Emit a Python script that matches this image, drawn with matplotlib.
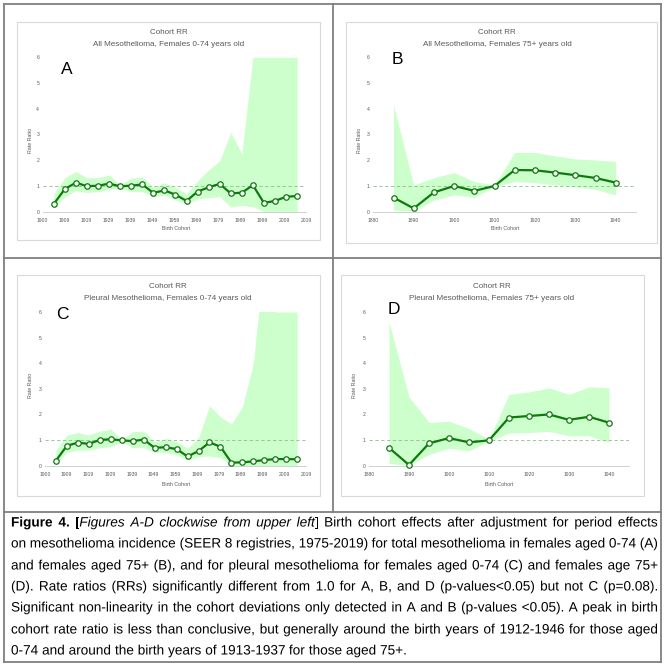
import matplotlib
matplotlib.use("Agg")
import matplotlib.pyplot as plt
from matplotlib.patches import Rectangle, PathPatch
from matplotlib.lines import Line2D
from matplotlib.textpath import TextPath
from matplotlib.font_manager import FontProperties
from matplotlib.transforms import Affine2D

plt.rcParams["font.family"] = ["Liberation Sans", "DejaVu Sans"]

W, H = 668, 671

# ---------------------------------------------------------------------------
# Data
# ---------------------------------------------------------------------------
cohort_young = [1905, 1910, 1915, 1920, 1925, 1930, 1935, 1940, 1945, 1950, 1955, 1960,
                1965, 1970, 1975, 1980, 1985, 1990, 1995, 2000, 2005, 2010, 2015]
cohort_old = [1885, 1890, 1895, 1900, 1905, 1910, 1915, 1920, 1925, 1930, 1935, 1940]

rr_a = [0.30, 0.88, 1.13, 0.99, 1.01, 1.09, 0.99, 1.01, 1.06, 0.73, 0.83, 0.66,
        0.42, 0.78, 0.95, 1.08, 0.71, 0.74, 1.03, 0.34, 0.42, 0.58, 0.61]
lo_a = [0.15, 0.58, 0.82, 0.74, 0.78, 0.87, 0.91, 0.78, 0.78, 0.58, 0.65, 0.45,
        0.30, 0.49, 0.55, 0.58, 0.18, 0.25, 0.19, 0.0, 0.0, 0.0, 0.0]
hi_a = [0.70, 1.32, 1.56, 1.32, 1.32, 1.43, 1.04, 1.30, 1.35, 0.95, 1.12, 0.95,
        0.70, 1.20, 1.62, 1.98, 3.08, 2.25, 6.0, 6.0, 6.0, 6.0, 6.0]

rr_b = [0.55, 0.13, 0.75, 1.00, 0.81, 1.00, 1.62, 1.61, 1.52, 1.42, 1.31, 1.13]
lo_b = [0.06, 0.03, 0.45, 0.65, 0.56, 0.97, 1.17, 1.13, 1.04, 0.97, 0.87, 0.65]
hi_b = [4.16, 1.04, 1.32, 1.52, 1.17, 1.04, 2.30, 2.30, 2.17, 2.05, 2.01, 1.95]

rr_c = [0.20, 0.78, 0.90, 0.85, 1.01, 1.03, 0.99, 0.96, 1.02, 0.70, 0.72, 0.65,
        0.36, 0.57, 0.91, 0.74, 0.12, 0.13, 0.17, 0.22, 0.26, 0.26, 0.25]
lo_c = [0.09, 0.52, 0.61, 0.61, 0.70, 0.74, 0.94, 0.70, 0.70, 0.52, 0.52, 0.42,
        0.22, 0.35, 0.38, 0.31, 0.0, 0.0, 0.0, 0.0, 0.0, 0.0, 0.0]
hi_c = [0.61, 1.20, 1.29, 1.20, 1.35, 1.42, 1.03, 1.33, 1.35, 0.94, 1.07, 0.94,
        0.68, 1.09, 2.33, 1.91, 1.62, 2.30, 4.0, 8.1, 6.0, 6.0, 6.0]

rr_d = [0.70, 0.03, 0.87, 1.08, 0.91, 0.99, 1.88, 1.94, 2.00, 1.79, 1.91, 1.68]
lo_d = [0.09, 0.0, 0.44, 0.68, 0.58, 0.96, 1.27, 1.29, 1.34, 1.17, 1.17, 0.91]
hi_d = [5.62, 2.69, 1.69, 1.74, 1.45, 1.04, 2.78, 2.88, 3.04, 2.78, 3.08, 3.04]

ticks_young = ["1900", "1909", "1919", "1929", "1939", "1949", "1959",
               "1969", "1979", "1989", "1999", "2009", "2019"]
ticks_old = ["1880", "1890", "1900", "1910", "1920", "1930", "1940"]
yticks = ["0", "1", "2", "3", "4", "5", "6"]

title_text = {
    "A": "All Mesothelioma, Females 0-74 years old",
    "B": "All Mesothelioma, Females 75+ years old",
    "C": "Pleural Mesothelioma, Females 0-74 years old",
    "D": "Pleural Mesothelioma, Females 75+ years old",
}

caption_lines = [
    "on mesothelioma incidence (SEER 8 registries, 1975-2019) for total mesothelioma in females aged 0-74 (A)",
    "and females aged 75+ (B), and for pleural mesothelioma for females aged 0-74 (C) and females age 75+",
    "(D). Rate ratios (RRs) significantly different from 1.0 for A, B, and D (p-values<0.05) but not C (p=0.08).",
    "Significant non-linearity in the cohort deviations only detected in A and B (p-values <0.05). A peak in birth",
    "cohort rate ratio is less than conclusive, but generally around the birth years of 1912-1946 for those aged",
    "0-74 and around the birth years of 1913-1937 for those aged 75+.",
]

GREEN = "#0e7a0e"
BAND = "#ccffcc"
GREY_TXT = "#595959"


def fx(x):
    return x / W


def fy(y):
    return 1 - y / H


fig = plt.figure(figsize=(W / 100, H / 100), dpi=100)
fig.patch.set_facecolor("white")


def panel(box, data_px, xlim, xtick_pos, xtick_lab, labels, letter, letter_xy,
          x, rr, lo, hi):
    # chart-area frame
    x0, y0, x1, y1 = box
    fig.add_artist(Rectangle((fx(x0), fy(y1)), (x1 - x0) / W, (y1 - y0) / H,
                             transform=fig.transFigure, fill=False,
                             edgecolor="#d9d9d9", lw=0.8))
    # plot area, mapped so the axis limits land on the reference pixels
    px_l, px_r, px_b, px_t = data_px
    ax = fig.add_axes([fx(px_l), fy(px_b), (px_r - px_l) / W, (px_b - px_t) / H])
    ax.set_xlim(*xlim)
    ax.set_ylim(0, 6)
    ax.patch.set_alpha(0)
    for s in ("top", "right", "left"):
        ax.spines[s].set_visible(False)
    ax.spines["bottom"].set_color("#d0d0d0")
    ax.spines["bottom"].set_linewidth(0.7)
    ax.fill_between(x, lo, hi, color=BAND, lw=0, zorder=1)
    ax.axhline(1, color="#8cbf8c", lw=0.6, ls=(0, (4, 3)), zorder=2)
    ax.plot(x, rr, color=GREEN, lw=1.6, marker="o", ms=3.9,
            mfc="white", mec=GREEN, mew=0.9, zorder=3, clip_on=False)
    ax.set_xticks(xtick_pos)
    ax.set_xticklabels(xtick_lab)
    ax.set_yticks(range(7))
    ax.set_yticklabels(yticks)
    ax.tick_params(length=0, labelsize=3.6, colors=GREY_TXT)
    ax.tick_params(axis="x", pad=4.5)
    ax.tick_params(axis="y", pad=2.5)

    tx, ty1, ty2, ylx, yly, xlx, xly = labels
    fig.text(fx(tx), fy(ty1), "Cohort RR", ha="center", va="center",
             fontsize=5.8, color=GREY_TXT)
    fig.text(fx(tx), fy(ty2), title_text[letter], ha="center", va="center",
             fontsize=5.9, color=GREY_TXT)
    fig.text(fx(ylx), fy(yly), "Rate Ratio", ha="center", va="center",
             rotation=90, fontsize=3.8, color=GREY_TXT)
    fig.text(fx(xlx), fy(xly), "Birth Cohort", ha="center", va="center",
             fontsize=3.8, color=GREY_TXT)
    fig.text(fx(letter_xy[0]), fy(letter_xy[1]), letter, ha="center",
             va="center", fontsize=12.5, color="black")


young_pos = [1900 + i * (2019 - 1900) / 12 for i in range(13)]
old_pos = [1880, 1890, 1900, 1910, 1920, 1930, 1940]

panel((17, 22, 320, 240), (42.7, 306, 211.7, 57.3), (1900, 2019),
      young_pos, ticks_young, (169, 32, 44, 30, 140, 176, 229),
      "A", (67, 69), cohort_young, rr_a, lo_a, hi_a)
panel((346, 22, 657, 243), (373.3, 635.9, 211.7, 57.3), (1880, 1945),
      old_pos, ticks_old, (497, 32, 44, 359, 140, 505, 229),
      "B", (397, 60), cohort_old, rr_b, lo_b, hi_b)
panel((17, 275, 320, 496), (45, 306, 465.7, 312), (1900, 2019),
      young_pos, ticks_young, (168, 287, 298, 30, 385, 176, 484),
      "C", (62.5, 314.5), cohort_young, rr_c, lo_c, hi_c)
panel((341, 275, 644, 496), (369, 629, 465.7, 312), (1880, 1945),
      old_pos, ticks_old, (492, 287, 298, 354, 385, 499, 484),
      "D", (394, 310), cohort_old, rr_d, lo_d, hi_d)

# ---------------------------------------------------------------------------
# Table borders
# ---------------------------------------------------------------------------
BORDER = "#7f7f7f"
for (xa, ya, xb, yb) in [(4, 4, 661, 4), (4, 662, 661, 662), (4, 4, 4, 662),
                         (661, 4, 661, 662), (333, 4, 333, 512),
                         (4, 258, 661, 258), (4, 512, 661, 512)]:
    fig.add_artist(Line2D([fx(xa), fx(xb)], [fy(ya), fy(yb)],
                          transform=fig.transFigure, color=BORDER, lw=1.3))

# ---------------------------------------------------------------------------
# Caption: justified, slightly condensed glyphs drawn as paths
# ---------------------------------------------------------------------------
CAP_PX = 13.6          # em size in pixels
X0, X1 = 11, 658
LAST_END = 428         # where the last (ragged) line ends in the reference
MIN_GAP = 0.95         # tightest word gap allowed, in (squeezed) spaces
line_y = [522, 543, 565, 586, 607, 629, 650]

props = {
    "": FontProperties(family="Liberation Sans"),
    "b": FontProperties(family="Liberation Sans", weight="bold"),
    "i": FontProperties(family="Liberation Sans", style="italic"),
}
renderer = fig.canvas.get_renderer()


def advance(s, st):
    w, _, _ = renderer.get_text_width_height_descent(s, props[st], ismath=False)
    return w * CAP_PX / (props[st].get_size_in_points() * 100 / 72)


space_w = advance("a a", "") - advance("aa", "")


def words_of(text, st=""):
    return [[(w, st)] for w in text.split()]


first = [[("Figure", "b")], [("4.", "b")], [("[", ""), ("Figures", "i")]]
first += words_of("A-D clockwise from upper", "i")
first += [[("left", "i"), ("]", "")]]
first += words_of("Birth cohort effects after adjustment for period effects")
all_lines = [first] + [words_of(t) for t in caption_lines]


def natural(tokens):
    return sum(advance(s, st) for w in tokens for s, st in w)


# uniform horizontal squeeze: match the ragged last line, but keep every
# justified line from getting tighter than MIN_GAP spaces
last = all_lines[-1]
SX = (LAST_END - X0) / (natural(last) + space_w * (len(last) - 1))
for toks in all_lines[:-1]:
    SX = min(SX, (X1 - X0) / (natural(toks) + MIN_GAP * space_w * (len(toks) - 1)))


def draw_line(tokens, y, justify):
    widths = [[advance(s, st) * SX for s, st in word] for word in tokens]
    total = sum(sum(w) for w in widths)
    gap = (X1 - X0 - total) / (len(tokens) - 1) if justify else space_w * SX
    x = X0
    base = H - (y + 4.5)
    for word, ws in zip(tokens, widths):
        for (s, st), w in zip(word, ws):
            path = TextPath((0, 0), s, size=CAP_PX, prop=props[st])
            tr = Affine2D().scale(SX, 1).translate(x, base)
            fig.add_artist(PathPatch(path, transform=tr, facecolor="black",
                                     edgecolor="none", lw=0))
            x += w
        x += gap


for i, toks in enumerate(all_lines):
    draw_line(toks, line_y[i], i < len(all_lines) - 1)

fig.savefig("out.png", dpi=100, facecolor="white")
